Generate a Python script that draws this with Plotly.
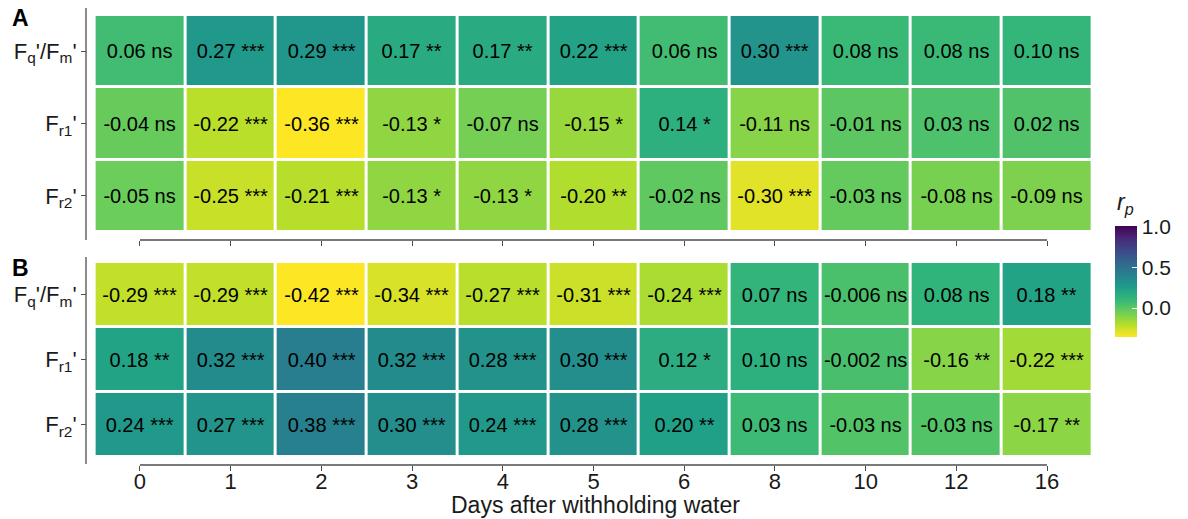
import plotly.graph_objects as go

# Days after withholding water (columns) and chlorophyll-fluorescence parameters (rows)
days = ["0", "1", "2", "3", "4", "5", "6", "8", "10", "12", "16"]
params = ["F<sub>q</sub>'/F<sub>m</sub>'", "F<sub>r1</sub>'", "F<sub>r2</sub>'"]

# Panel A: Pearson correlation coefficients and significance
a_fqfm = [0.06, 0.27, 0.29, 0.17, 0.17, 0.22, 0.06, 0.30, 0.08, 0.08, 0.10]
a_fqfm_sig = ["ns", "***", "***", "**", "**", "***", "ns", "***", "ns", "ns", "ns"]
a_fr1 = [-0.04, -0.22, -0.36, -0.13, -0.07, -0.15, 0.14, -0.11, -0.01, 0.03, 0.02]
a_fr1_sig = ["ns", "***", "***", "*", "ns", "*", "*", "ns", "ns", "ns", "ns"]
a_fr2 = [-0.05, -0.25, -0.21, -0.13, -0.13, -0.20, -0.02, -0.30, -0.03, -0.08, -0.09]
a_fr2_sig = ["ns", "***", "***", "*", "*", "**", "ns", "***", "ns", "ns", "ns"]

# Panel B
b_fqfm = [-0.29, -0.29, -0.42, -0.34, -0.27, -0.31, -0.24, 0.07, -0.006, 0.08, 0.18]
b_fqfm_sig = ["***", "***", "***", "***", "***", "***", "***", "ns", "ns", "ns", "**"]
b_fr1 = [0.18, 0.32, 0.40, 0.32, 0.28, 0.30, 0.12, 0.10, -0.002, -0.16, -0.22]
b_fr1_sig = ["**", "***", "***", "***", "***", "***", "*", "ns", "ns", "**", "***"]
b_fr2 = [0.24, 0.27, 0.38, 0.30, 0.24, 0.28, 0.20, 0.03, -0.03, -0.03, -0.17]
b_fr2_sig = ["***", "***", "***", "***", "***", "***", "**", "ns", "ns", "ns", "**"]

W, H = 1188, 519
FONT = "Liberation Sans, Arial, sans-serif"
AXCOL = "#4d4d4d"
TXT = "#1a1a1a"


def px_x(p):
    return p / W


def px_y(p):
    return 1 - p / H


def fmt(v, s):
    num = f"{v:.3f}" if (v != 0 and abs(v) < 0.01) else f"{v:.2f}"
    return f"{num} {s}"


def labels(rows, sigs):
    return [[fmt(v, s) for v, s in zip(r, g)] for r, g in zip(rows, sigs)]


za = [a_fqfm, a_fr1, a_fr2]
ta = labels(za, [a_fqfm_sig, a_fr1_sig, a_fr2_sig])
zb = [b_fqfm, b_fr1, b_fr2]
tb = labels(zb, [b_fqfm_sig, b_fr1_sig, b_fr2_sig])

common = dict(
    x=days, y=params, colorscale="Viridis", reversescale=True,
    xgap=3, ygap=3, texttemplate="%{text}",
    textfont=dict(size=20, color="black", family=FONT),
    hoverinfo="skip",
)

fig = go.Figure()
fig.add_trace(go.Heatmap(
    z=za, text=ta, zmin=min(min(r) for r in za), zmax=1.0,
    xaxis="x", yaxis="y", showscale=True,
    colorbar=dict(
        x=px_x(1115), xanchor="left", xpad=0,
        y=px_y(282), yanchor="middle", len=111, lenmode="pixels", ypad=0,
        thickness=22, outlinewidth=0,
        tickvals=[0.0, 0.5, 1.0], ticktext=["0.0", "0.5", "1.0"],
        ticks="inside", ticklen=5, tickcolor="white", tickwidth=1,
        tickfont=dict(size=21, family=FONT, color=TXT),
    ),
    **common,
))
fig.add_trace(go.Heatmap(
    z=zb, text=tb, zmin=min(min(r) for r in zb), zmax=1.0,
    xaxis="x2", yaxis="y2", showscale=False,
    **common,
))

xdom = [px_x(94.6), px_x(1092.4)]
yaxis_common = dict(
    type="category", autorange="reversed", anchor="free", position=px_x(86),
    ticks="outside", ticklen=5, tickcolor=AXCOL, tickwidth=1.2,
    showline=False, showgrid=False, zeroline=False,
    tickfont=dict(size=22, family=FONT, color=TXT),
)
xaxis_common = dict(
    type="category", domain=xdom, anchor="free", range=[-0.5, 10.5],
    ticks="outside", ticklen=5, tickcolor=AXCOL, tickwidth=1.2,
    showline=False, showgrid=False, zeroline=False,
)

fig.update_layout(
    width=W, height=H,
    margin=dict(l=0, r=0, t=0, b=0),
    paper_bgcolor="white", plot_bgcolor="white",
    font=dict(family=FONT, color=TXT),
    xaxis=dict(position=px_y(240), showticklabels=False, **xaxis_common),
    xaxis2=dict(
        position=px_y(465), showticklabels=True, ticklabelstandoff=-8,
        tickfont=dict(size=22, family=FONT, color=TXT),
        **xaxis_common,
    ),
    yaxis=dict(domain=[px_y(232), px_y(15)], **yaxis_common),
    yaxis2=dict(domain=[px_y(457), px_y(262)], **yaxis_common),
)

# Axis lines: vertical lines span the panels, horizontal lines are capped at the outer ticks
line = dict(color=AXCOL, width=1.3)
fig.add_shape(type="line", xref="paper", yref="paper",
              x0=px_x(86), x1=px_x(86), y0=px_y(8), y1=px_y(240), line=line)
fig.add_shape(type="line", xref="paper", yref="paper",
              x0=px_x(86), x1=px_x(86), y0=px_y(257), y1=px_y(464), line=line)
fig.add_shape(type="line", xref="x", yref="paper",
              x0=0, x1=len(days) - 1, y0=px_y(240), y1=px_y(240), line=line)
fig.add_shape(type="line", xref="x2", yref="paper",
              x0=0, x1=len(days) - 1, y0=px_y(465), y1=px_y(465), line=line)

# Panel tags, x-axis title and colour-bar title
ann = dict(xref="paper", yref="paper", showarrow=False, xanchor="center", yanchor="middle")
fig.add_annotation(text="<b>A</b>", x=px_x(20), y=px_y(18),
                   font=dict(size=23, family=FONT, color="black"), **ann)
fig.add_annotation(text="<b>B</b>", x=px_x(20), y=px_y(268),
                   font=dict(size=23, family=FONT, color="black"), **ann)
fig.add_annotation(text="Days after withholding water", x=px_x(595), y=px_y(505),
                   font=dict(size=23, family=FONT, color=TXT), **ann)
fig.add_annotation(text="<i>r</i><sub><i>p</i></sub>", x=px_x(1125), y=px_y(203),
                   font=dict(size=23, family=FONT, color=TXT), **ann)

fig.write_html("out.html")
